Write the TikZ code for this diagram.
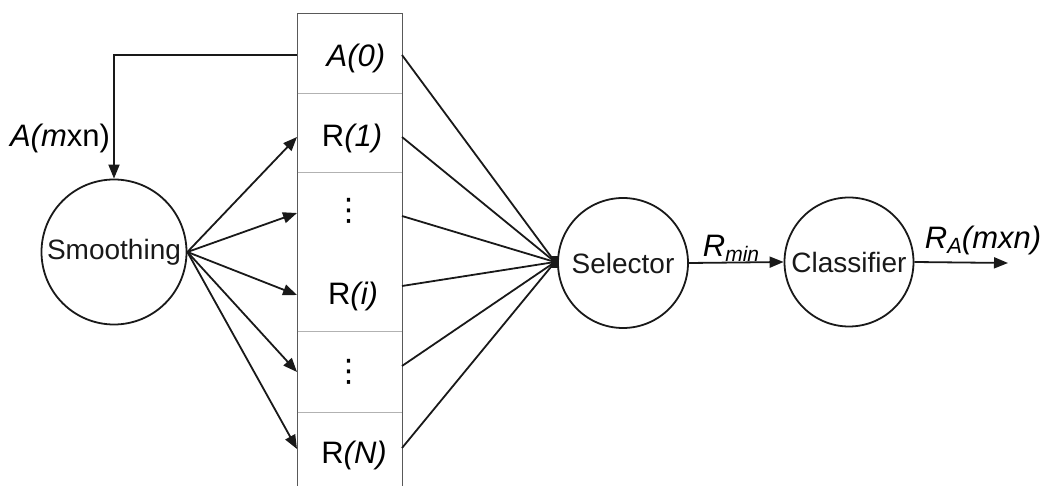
\documentclass[tikz,border=0pt]{standalone}
\usepackage{fontspec}
\setmainfont{Liberation Sans}
\newfontfamily\symfont{DejaVu Sans}
\usetikzlibrary{arrows.meta}
\begin{document}
\begin{tikzpicture}[x=1pt,y=-1pt,
  font=\fontsize{28}{32}\selectfont,
  wire/.style={line width=1.8pt,black!90},
  arr/.style={wire,-{Triangle[length=14pt,width=11pt]}},
  unit/.style={circle,draw,line width=1.8pt,black!90,inner sep=0pt},
  cell/.style={anchor=base,inner sep=0pt,font=\fontsize{31}{34}\selectfont},
  dots/.style={inner sep=0pt,font=\symfont\fontsize{31}{34}\selectfont},
  frame/.style={line width=1pt,black!65},
  divider/.style={line width=1pt,black!30},
  lbl/.style={anchor=base,inner sep=0pt,font=\fontsize{31}{34}\selectfont}]
\useasboundingbox (0,0) rectangle (1050,486);

% storage column
\draw[frame] (297,486) -- (297,14) -- (402,14) -- (402,486);
\foreach \y in {94,173,332,412} \draw[divider] (297.5,\y) -- (401.5,\y);

% column entries
\node[cell] (a0) at (356,67) {\itshape A(0)};
\node[cell] (r1) at (352,147) {R\itshape(1)};
\node[dots] (d1) at (349,211) {⋮};
\node[cell] (ri) at (353,305) {R\itshape(i)};
\node[dots] (d2) at (349,372) {⋮};
\node[cell] (rn) at (354,463) {R\itshape(N)};

% column inputs (left edge) and outputs (right edge)
\coordinate (a0in) at (297,55);
\coordinate (in1) at (297,137);
\coordinate (in2) at (297,213);
\coordinate (in3) at (297,295);
\coordinate (in4) at (297,372);
\coordinate (in5) at (297,449);
\coordinate (o0) at (402,55);
\coordinate (o1) at (402,137);
\coordinate (o2) at (402,216);
\coordinate (o3) at (402,286);
\coordinate (o4) at (402,366);
\coordinate (o5) at (402,448);

% processing units
\node[unit,minimum size=145pt] (smooth) at (114,252) {Smoothing};
\node[unit,minimum size=130pt] (sel) at (623,263) {Selector};
\node[unit,minimum size=129pt] (cls) at (849,262) {Classifier};
\coordinate (out) at (1008,263);

% merging point in front of the selector
\node[fill=black!90,minimum width=8pt,minimum height=12pt,inner sep=0pt] (hub) at (555,262) {};

% feedback of the original image into smoothing
\draw[arr] (a0in) -| (smooth.north);
\node[lbl] (ain) at (60,147) {\itshape A(m\upshape{x}n)};

% smoothing feeds every row of the column
\foreach \t in {in1,in2,in3,in4,in5}
  \draw[arr] (smooth.east) -- (\t);

% every row goes to the selector
\foreach \s in {o0,o1,o2,o3,o4,o5}
  \draw[wire] (\s) -- (hub.center);

% selector -> classifier -> output
\draw[arr] (sel.east) -- (cls.west);
\node[lbl] (rmin) at (731,257) {\itshape R\raisebox{-5pt}{\fontsize{21}{22}\selectfont min}};
\draw[arr] (cls.east) -- (out);
\node[lbl] (ra) at (983,249) {\itshape R\raisebox{-5pt}{\fontsize{22}{24}\selectfont A}(mxn)};
\end{tikzpicture}
\end{document}
